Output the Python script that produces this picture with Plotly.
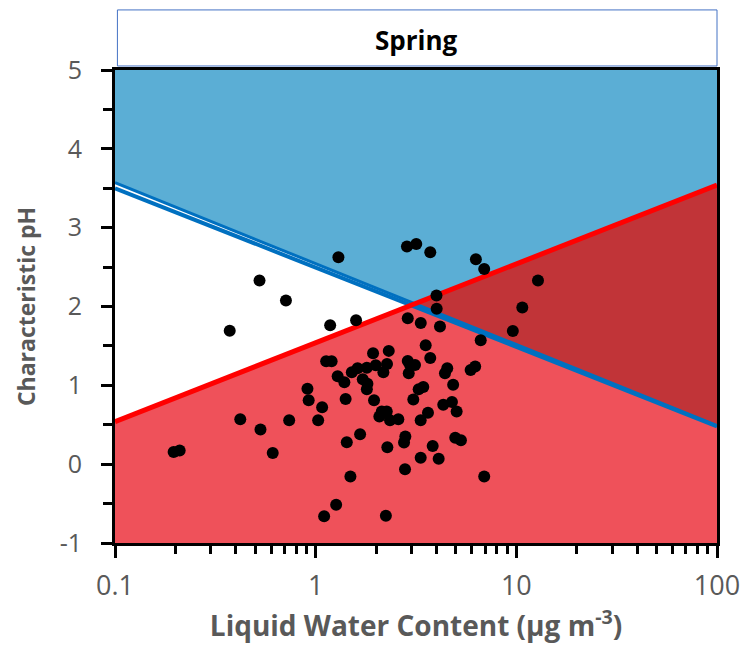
import numpy as np
import plotly.graph_objects as go

# Data: liquid water content (ug m-3) and characteristic pH
lwc = [0.196, 0.210, 0.373, 0.421, 0.525, 0.531, 0.611, 0.711, 0.738, 0.910,
       0.923, 1.077, 1.029, 1.102, 1.265, 1.181, 1.128, 1.201, 1.298, 1.287,
       1.390, 1.410, 1.429, 1.490, 1.514, 1.590, 1.618, 1.665, 1.717, 1.799,
       1.811, 1.799, 1.932, 1.954, 1.993, 2.077, 2.135, 2.261, 2.175, 2.268,
       2.276, 2.238, 2.313, 2.347, 2.582, 2.756, 2.798, 2.788, 2.850, 3.172,
       2.877, 2.877, 2.953, 3.126, 2.910, 3.066, 3.261, 3.438, 3.337, 3.337,
       3.340, 3.534, 3.628, 3.725, 3.725, 3.829, 4.000, 4.009, 4.102, 4.164,
       4.323, 4.409, 4.526, 4.777, 4.843, 4.961, 5.041, 5.296, 5.918, 6.237,
       6.287, 6.917, 6.645, 6.917, 9.607, 10.71, 12.82]
ph = [0.155, 0.173, 1.693, 0.570, 2.330, 0.439, 0.142, 2.077, 0.557, 0.957,
      0.811, 0.722, 0.557, -0.661, -0.515, 1.763, 1.306, 1.306, 2.626, 1.115,
      1.039, 0.827, 0.278, -0.156, 1.166, 1.826, 1.217, 0.379, 1.077, 1.223,
      1.020, 0.951, 1.407, 0.811, 1.255, 0.604, 0.668, 0.668, 1.166, 1.272,
      0.214, -0.655, 1.437, 0.557, 0.570, 0.274, 0.350, -0.065, 2.761, 2.794,
      1.852, 1.310, 1.259, 1.259, 1.154, 0.820, 0.951, 0.980, 0.557, 0.081,
      1.792, 1.509, 0.652, 2.688, 1.348, 0.231, 2.140, 1.972, 0.069, 1.747,
      0.754, 1.154, 1.217, 0.789, 1.006, 0.335, 0.668, 0.303, 1.195, 1.239,
      2.600, 2.477, 1.572, -0.156, 1.690, 1.987, 2.331]

# Boundary lines (pH at x = 0.1 and x = 100)
x_ends = [0.1, 100]
blue_line = [3.50, 0.48]
blue_line2 = [3.57, 0.49]
red_line = [0.54, 3.54]
y_min, y_max = -1, 5

x_ticks = [0.1, 1, 10, 100]
x_ticktext = ["0.1", "1", "10", "100"]
y_ticks = [-1, 0, 1, 2, 3, 4, 5]
y_ticktext = ["-1", "0", "1", "2", "3", "4", "5"]

# intersection of lines (in log space)
L0, L1 = np.log10(x_ends)
sb = (blue_line[1] - blue_line[0]) / (L1 - L0)
sr = (red_line[1] - red_line[0]) / (L1 - L0)
Li = L0 + (red_line[0] - blue_line[0]) / (sb - sr)
yi = blue_line[0] + sb * (Li - L0)
xi = 10 ** Li

fig = go.Figure()
# blue region (above blue line)
fig.add_trace(go.Scatter(x=[x_ends[0], x_ends[1], x_ends[1], x_ends[0]],
                         y=[blue_line2[0], blue_line[1], y_max, y_max],
                         fill="toself", fillcolor="#5BAED5", mode="none",
                         hoverinfo="skip"))
# red region (below red line)
fig.add_trace(go.Scatter(x=[x_ends[0], x_ends[1], x_ends[1], x_ends[0]],
                         y=[y_min, y_min, red_line[1], red_line[0]],
                         fill="toself", fillcolor="#EF515A", mode="none",
                         hoverinfo="skip"))
# overlap region
fig.add_trace(go.Scatter(x=[xi, x_ends[1], x_ends[1]],
                         y=[yi, red_line[1], blue_line[1]],
                         fill="toself", fillcolor="#C13438", mode="none",
                         hoverinfo="skip"))
# lines
fig.add_trace(go.Scatter(x=x_ends, y=blue_line2, mode="lines",
                         line=dict(color="#0070C0", width=3), hoverinfo="skip"))
fig.add_trace(go.Scatter(x=x_ends, y=blue_line, mode="lines",
                         line=dict(color="#0070C0", width=4), hoverinfo="skip"))
fig.add_trace(go.Scatter(x=x_ends, y=red_line, mode="lines",
                         line=dict(color="#FF0000", width=5), hoverinfo="skip"))
# points
fig.add_trace(go.Scatter(x=lwc, y=ph, mode="markers",
                         marker=dict(color="black", size=12, line=dict(width=0))))

minor_x = [k * 10.0 ** n for n in (-1, 0, 1) for k in range(2, 10)]

fig.update_layout(
    width=746, height=657,
    margin=dict(l=114.5, r=28.5, t=70, b=114),
    plot_bgcolor="white", paper_bgcolor="white",
    showlegend=False,
    font=dict(family="Open Sans", color="#595959"),
    xaxis=dict(type="log", range=[-1, 2], tickvals=x_ticks, ticktext=x_ticktext,
               automargin=False,
               showgrid=False, zeroline=False,
               showline=True, mirror=True, linecolor="black", linewidth=3,
               ticks="outside", ticklen=12, tickwidth=3, tickcolor="black",
               tickfont=dict(size=27, color="#595959"), ticklabelstandoff=5,
               minor=dict(tickvals=minor_x, ticks="outside", ticklen=8,
                          tickwidth=3, tickcolor="black", showgrid=False),
               title=dict(text="<b>Liquid Water Content (μg m<sup>-3</sup>)</b>",
                          font=dict(size=28, color="#595959"), standoff=2)),
    yaxis=dict(range=[y_min, y_max], tickvals=y_ticks, ticktext=y_ticktext,
               automargin=False,
               showgrid=False, zeroline=False,
               showline=True, mirror=True, linecolor="black", linewidth=3,
               ticks="outside", ticklen=11, tickwidth=3, tickcolor="black",
               tickfont=dict(size=25, color="#595959"), ticklabelstandoff=14,
               minor=dict(dtick=0.5, ticks="outside", ticklen=9, tickwidth=3,
                          tickcolor="black", showgrid=False),
               title=dict(text="<b>Characteristic pH</b>",
                          font=dict(size=23, color="#595959"), standoff=18)),
    shapes=[dict(type="rect", xref="paper", yref="paper",
                 x0=0.004, x1=1.0, y0=1.0085, y1=1.127,
                 line=dict(color="#4472C4", width=1), fillcolor="white")],
    annotations=[dict(text="<b>Spring</b>", xref="paper", yref="paper",
                      x=0.5, y=1.064, yanchor="middle", showarrow=False,
                      font=dict(size=26, color="black"))],
)

fig.write_html("out.html")
